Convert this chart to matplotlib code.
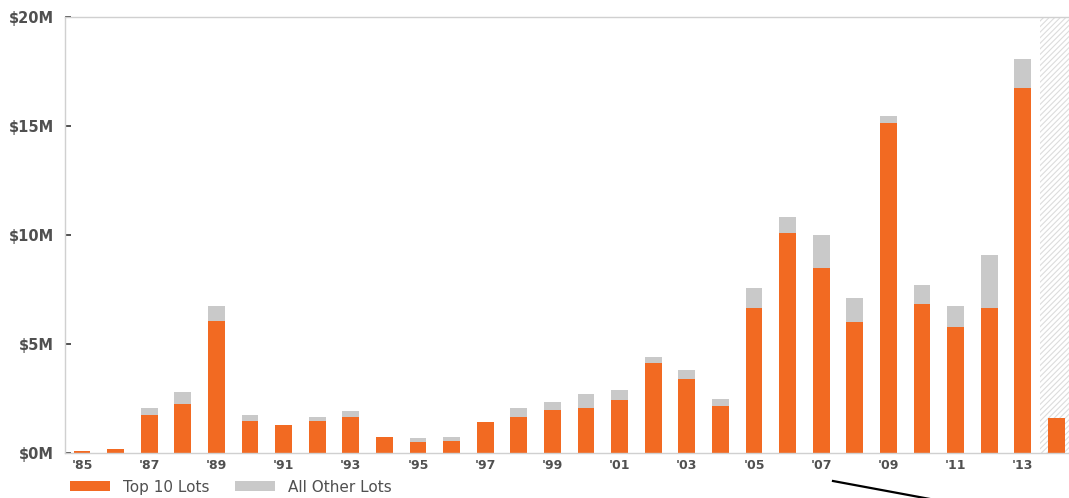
import matplotlib
matplotlib.use("Agg")
import matplotlib.pyplot as plt
from matplotlib.patches import Patch
from matplotlib.lines import Line2D

# auction totals per year, in $M
years = list(range(1985, 2015))
top10 = [0.06, 0.15, 1.70, 2.25, 6.05, 1.44, 1.28, 1.44, 1.65, 0.70,
         0.47, 0.55, 1.39, 1.65, 1.93, 2.05, 2.40, 4.11, 3.38, 2.12,
         6.62, 10.10, 8.47, 5.98, 15.15, 6.80, 5.78, 6.62, 16.73, 1.59]
other = [0.00, 0.00, 0.36, 0.55, 0.69, 0.26, 0.00, 0.18, 0.25, 0.02,
         0.19, 0.18, 0.00, 0.40, 0.40, 0.64, 0.48, 0.29, 0.41, 0.34,
         0.93, 0.73, 1.52, 1.10, 0.31, 0.90, 0.95, 2.46, 1.33, 0.00]
yticks = [0, 5, 10, 15, 20]
ytick_labels = ["$0M", "$5M", "$10M", "$15M", "$20M"]
xtick_years = list(range(1985, 2014, 2))
xtick_labels = ["'" + str(y)[2:] for y in xtick_years]
partial_year = 2014

ORANGE = "#f26a22"
GREY = "#c9c9c9"
TEXT = "#505050"

plt.rcParams["hatch.linewidth"] = 0.8

fig = plt.figure(figsize=(10.69, 4.98), dpi=100)
ax = fig.add_axes([65 / 1069, 1 - 452.5 / 498, 1 - 65 / 1069, (452.5 - 17) / 498])

# current (incomplete) year shaded with a light hatch
ax.axvspan(partial_year - 0.49, 2014.375, facecolor="white", edgecolor="#dcdcdc",
           hatch="//////", linewidth=0, zorder=0)

ax.bar(years, top10, width=0.5, color=ORANGE, zorder=2)
ax.bar(years, other, width=0.5, bottom=top10, color=GREY, zorder=2)

ax.set_xlim(1984.494, 2014.375)
ax.set_ylim(0, 20)

ax.set_yticks(yticks)
ax.set_yticklabels(ytick_labels, fontsize=10.5, fontweight="bold", color=TEXT)
ax.set_xticks(xtick_years)
ax.set_xticklabels(xtick_labels, fontsize=9, fontweight="bold", color=TEXT)
ax.tick_params(axis="y", direction="in", length=4, width=1.2, color="#333333", pad=8)
ax.tick_params(axis="x", length=0, pad=4.5)

for side in ["left", "top", "bottom"]:
    ax.spines[side].set_color("#d0d0d0")
    ax.spines[side].set_linewidth(1)
ax.spines["right"].set_visible(False)

handles = [Patch(facecolor=ORANGE, edgecolor="none", label="Top 10 Lots"),
           Patch(facecolor=GREY, edgecolor="none", label="All Other Lots")]
leg = fig.legend(handles=handles, loc="center left", bbox_to_anchor=(70 / 1069, 1 - 487 / 498),
                 ncol=2, frameon=False, fontsize=11, handlelength=2.6, handleheight=0.55,
                 handletextpad=0.85, columnspacing=1.7, borderpad=0, borderaxespad=0)
for t in leg.get_texts():
    t.set_color(TEXT)

# leader line running off the bottom edge
fig.add_artist(Line2D([833 / 1069, 930 / 1069], [1 - 481 / 498, 1 - 499 / 498],
                      transform=fig.transFigure, color="black", linewidth=1.6))

fig.savefig("out.png", dpi=100)
